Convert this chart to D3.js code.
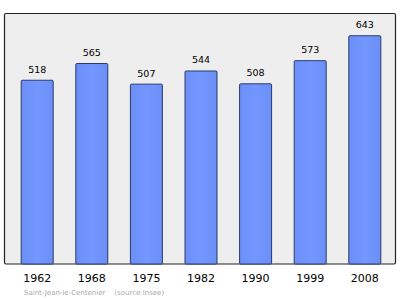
<!DOCTYPE html>
<html>
<head>
<meta charset="utf-8">
<script src="https://cdn.jsdelivr.net/npm/d3@7"></script>
<style>
  body { margin: 0; background: #fff; }
  svg { display: block; }
</style>
</head>
<body>
<svg id="chart" width="400" height="299"></svg>
<script>
var years = ["1962", "1968", "1975", "1982", "1990", "1999", "2008"];
var population = [518, 565, 507, 544, 508, 573, 643];
var yDomain = [0, 700];
var sourceText = "Saint-Jean-le-Centenier    (source:Insee)";

var svg = d3.select("#chart");

var plotLeft = 4, plotRight = 395, plotTop = 14, plotBottom = 264;

var xScale = d3.scaleBand()
    .domain(years)
    .range([plotLeft + 1, plotRight + 1])
    .paddingInner(0.414)
    .paddingOuter(0.2875);

var yScale = d3.scaleLinear()
    .domain(yDomain)
    .range([plotBottom, 15]);

var grad = svg.append("defs").append("linearGradient")
    .attr("id", "barGrad")
    .attr("x1", 0).attr("x2", 1).attr("y1", 0).attr("y2", 0);
grad.append("stop").attr("offset", "0%").attr("stop-color", "#6b8ff7");
grad.append("stop").attr("offset", "50%").attr("stop-color", "#7397ff");
grad.append("stop").attr("offset", "100%").attr("stop-color", "#6b8ff7");

// plot frame
svg.append("rect")
    .attr("x", plotLeft + 0.5)
    .attr("y", plotTop - 0.5)
    .attr("width", plotRight - plotLeft)
    .attr("height", plotBottom - plotTop + 0.5)
    .attr("rx", 1.5)
    .attr("fill", "#eeeeee")
    .attr("stroke", "#222")
    .attr("stroke-width", 1.2);

svg.selectAll(".bar")
    .data(population)
    .enter()
    .append("rect")
    .attr("class", "bar")
    .attr("x", function (d, i) { return xScale(years[i]) + 0.5; })
    .attr("y", function (d) { return yScale(d) + 0.5; })
    .attr("width", xScale.bandwidth())
    .attr("height", function (d) { return plotBottom - yScale(d) - 0.5; })
    .attr("rx", 1)
    .attr("fill", "url(#barGrad)")
    .attr("stroke", "#2a3a6a")
    .attr("stroke-width", 1);

svg.selectAll(".val")
    .data(population)
    .enter()
    .append("text")
    .attr("class", "val")
    .attr("x", function (d, i) { return xScale(years[i]) + xScale.bandwidth() / 2 + 0.5; })
    .attr("y", function (d) { return yScale(d) - 7; })
    .attr("text-anchor", "middle")
    .attr("font-family", "DejaVu Sans")
    .attr("font-size", "9.5px")
    .attr("fill", "#000")
    .text(function (d) { return d; });

var xAxis = d3.axisBottom(xScale).tickSize(0).tickPadding(0);
var ax = svg.append("g")
    .attr("transform", "translate(0.5," + 282 + ")")
    .call(xAxis);
ax.select(".domain").remove();
ax.selectAll("text")
    .attr("dy", 0)
    .attr("font-family", "DejaVu Sans")
    .attr("font-size", "11px")
    .attr("fill", "#000");

svg.append("text")
    .attr("x", 24)
    .attr("y", 295)
    .attr("font-family", "DejaVu Sans")
    .attr("font-size", "7px")
    .attr("fill", "#aaaaaa")
    .attr("xml:space", "preserve")
    .style("white-space", "pre")
    .text(sourceText);
</script>
</body>
</html>
